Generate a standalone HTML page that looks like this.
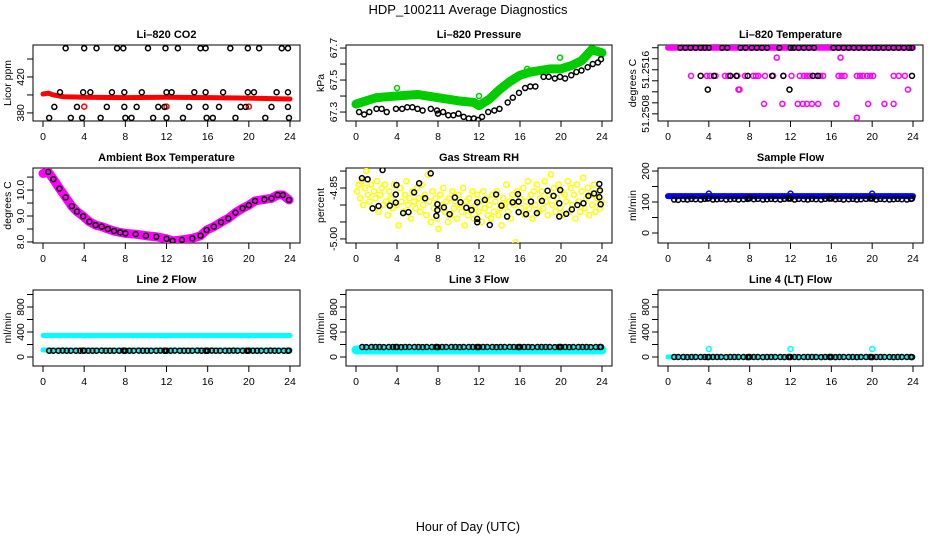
<!DOCTYPE html>
<html><head><meta charset="utf-8"><style>
body{margin:0;background:#fff}
svg{display:block;font-family:"Liberation Sans",sans-serif}
</style></head><body>
<svg id="fig" width="936" height="540" viewBox="0 0 936 540" xmlns="http://www.w3.org/2000/svg">
<rect width="936" height="540" fill="#fff"/>
<text x="468" y="14" font-size="13" text-anchor="middle">HDP_100211  Average Diagnostics</text>
<text x="468" y="531" font-size="12.5" text-anchor="middle">Hour of Day (UTC)</text>
</svg>
<script>
// ---------- data ----------
const xTicks=[0,4,8,12,16,20,24];
const co2Band=[[0,401],[0.5,402],[1,400],[2,398],[4,397.5],[8,397],[12,397.5],[16,397],[20,396.5],[24,395.5]];
const co2Red=[[4,387],[12,387],[20,387]];
const co2Black=[[2.2,452],[4.0,452],[5.2,452],[7.2,452],[7.8,452],[10.2,452],[11.9,452],[13.1,452],[15.3,452],[15.8,452],[18.2,452],[19.9,452],[21.0,452],[23.2,452],[23.8,452],
[1.65,403],[3.9,403],[4.6,403],[6.7,403],[7.9,403],[9.6,403],[12.0,403],[12.5,403],[14.7,403],[15.8,403],[17.5,403],[19.9,403],[20.5,403],[22.7,403],[23.8,403],
[1.1,386.7],[3.3,386.7],[6.2,386.7],[7.9,386.7],[9.1,386.7],[11.2,386.7],[11.8,386.7],[14.2,386.7],[15.8,386.7],[17.1,386.7],[19.2,386.7],[19.7,386.7],[22.2,386.7],[23.8,386.7],
[0.6,374.5],[2.7,374.5],[3.8,374.5],[5.6,374.5],[8.0,374.5],[8.6,374.5],[10.7,374.5],[12.0,374.5],[13.6,374.5],[15.9,374.5],[16.5,374.5],[18.7,374.5],[21.6,374.5],[23.9,374.5]];
const presBand=[[0,67.35],[1,67.37],[2,67.39],[4,67.40],[6,67.41],[8,67.39],[10,67.37],[11.5,67.36],[12,67.34],[13,67.38],[14,67.44],[15,67.49],[16,67.53],[17,67.55],[18,67.56],[19,67.57],[20,67.57],[21,67.59],[22,67.62],[23,67.69],[24,67.67]];
const presGreen=[[4,67.45],[12,67.40],[16.7,67.57],[19.9,67.64]];
const presBlack=[[0.3,67.30],[0.8,67.285],[1.3,67.30],[2,67.32],[2.5,67.32],[3,67.30],[3.9,67.32],[4.5,67.32],[5,67.33],[5.5,67.33],[6,67.32],[6.5,67.31],[7.3,67.32],[7.9,67.31],[8,67.29],[8.5,67.30],[9,67.28],[9.5,67.28],[10,67.29],[10.5,67.27],[11,67.26],[11.5,67.26],[11.9,67.25],[12.3,67.27],[12.9,67.30],[13.5,67.31],[14,67.32],[14.8,67.36],[15.3,67.39],[15.9,67.42],[16.5,67.45],[17,67.46],[17.5,67.46],[18.3,67.52],[18.8,67.52],[19.4,67.51],[19.9,67.52],[20.4,67.51],[21,67.53],[21.5,67.55],[22,67.56],[22.6,67.58],[23.1,67.60],[23.6,67.61],[23.9,67.63]];
const tempBand=[[0,51.2520],[24,51.2520]];
const tempMagenta=[[10.65,51.25182],[16.9,51.25182],
[2.25,51.25149],[3.8,51.25149],[4.1,51.25149],[4.66,51.25149],[5.58,51.25149],[5.9,51.25149],[6.1,51.25149],[6.8,51.25149],[7.54,51.25149],[8.35,51.25149],[8.6,51.25149],[8.85,51.25149],[9.5,51.25149],[10.3,51.25149],[11.3,51.25149],[12.1,51.25149],[12.9,51.25149],[13.3,51.25149],[13.6,51.25149],[13.9,51.25149],[14.2,51.25149],[14.6,51.25149],[14.9,51.25149],[15.2,51.25149],[16.7,51.25149],[17.0,51.25149],[17.3,51.25149],[18.5,51.25149],[18.8,51.25149],[19.1,51.25149],[19.5,51.25149],[19.8,51.25149],[20.1,51.25149],[22.1,51.25149],[22.6,51.25149],[23.2,51.25149],
[6.9,51.25124],[7.0,51.25124],[23.5,51.25124],
[9.4,51.25098],[11.2,51.25098],[12.7,51.25098],[13.2,51.25098],[13.6,51.25098],[14.1,51.25098],[14.7,51.25098],[16.5,51.25098],[19.6,51.25098],[21.2,51.25098],[22.1,51.25098],
[18.5,51.25073]];
const tempBlack=[[1.2,51.2520],[1.7,51.2520],[2.2,51.2520],[2.7,51.2520],[3.2,51.2520],[3.6,51.2520],[4,51.2520],[5.3,51.2520],[5.8,51.2520],[7.1,51.2520],[7.6,51.2520],[8.2,51.2520],[8.7,51.2520],[9.2,51.2520],[9.7,51.2520],[10.9,51.2520],[12,51.2520],[12.3,51.2520],[12.8,51.2520],[13.3,51.2520],[13.8,51.2520],[14.3,51.2520],[16.2,51.2520],[16.7,51.2520],[17.2,51.2520],[17.7,51.2520],[18.2,51.2520],[18.7,51.2520],[19.2,51.2520],[19.7,51.2520],[20.2,51.2520],[20.6,51.2520],[21.1,51.2520],[21.6,51.2520],[22.1,51.2520],[22.6,51.2520],[23.1,51.2520],[23.6,51.2520],[23.9,51.2520],
[3.2,51.25149],[4.5,51.25149],[6.1,51.25149],[6.7,51.25149],[7.8,51.25149],[10.2,51.25149],[11.3,51.25149],[14.2,51.25149],[14.7,51.25149],[23.9,51.25149],
[3.9,51.25124],[11.9,51.25124]];
const ambPts=[[0,10.64],[0.5,10.7],[1.0,10.42],[1.6,10.06],[2.2,9.72],[2.8,9.38],[3.3,9.17],[3.9,8.99],[4.5,8.78],[5.1,8.65],[5.7,8.59],[6.3,8.5],[6.9,8.42],[7.5,8.37],[8,8.33],[9,8.30],[10,8.24],[11,8.2],[12,8.12],[12.6,8.04],[13.5,8.08],[14.5,8.14],[15.3,8.24],[15.9,8.46],[16.6,8.59],[17.3,8.76],[18,8.91],[18.7,9.13],[19.4,9.3],[20,9.42],[20.6,9.58],[21.5,9.64],[22.2,9.68],[22.8,9.81],[23.3,9.81],[23.9,9.62]];
const rhYellowStart=0.1, rhYellowStep=0.15;
const rhYellow=[-4.86,-4.84,-4.88,-4.83,-4.90,-4.85,-4.80,-4.87,-4.89,-4.84,
-4.91,-4.86,-4.88,-4.83,-4.92,-4.87,-4.85,-4.90,-4.84,-4.89,
-4.93,-4.86,-4.88,-4.91,-4.84,-4.87,-4.90,-4.96,-4.85,-4.89,
-4.92,-4.87,-4.83,-4.90,-4.88,-4.94,-4.86,-4.89,-4.91,-4.85,
-4.88,-4.92,-4.84,-4.90,-4.87,-4.93,-4.81,-4.89,-4.95,-4.86,
-4.91,-4.88,-4.94,-4.97,-4.87,-4.90,-4.85,-4.92,-4.89,-4.95,
-4.88,-4.93,-4.86,-4.91,-4.89,-4.94,-4.87,-4.90,-4.92,-4.85,
-4.96,-4.89,-4.93,-4.88,-4.91,-4.86,-4.94,-4.90,-4.87,-4.92,
-4.89,-4.95,-4.86,-4.91,-4.88,-4.93,-4.90,-4.94,-4.87,-4.92,
-4.89,-4.86,-4.93,-4.91,-4.96,-4.88,-4.90,-4.84,-4.92,-4.89,
-4.94,-4.87,-4.90,-5.01,-4.86,-4.92,-4.88,-4.91,-4.85,-4.93,
-4.89,-4.83,-4.91,-4.87,-4.94,-4.86,-4.90,-4.84,-4.92,-4.88,
-4.86,-4.91,-4.83,-4.89,-4.93,-4.87,-4.81,-4.90,-4.85,-4.92,
-4.88,-4.84,-4.91,-4.86,-4.93,-4.87,-4.89,-4.83,-4.92,-4.85,
-4.90,-4.87,-4.94,-4.84,-4.89,-4.92,-4.86,-4.82,-4.91,-4.88,
-4.85,-4.93,-4.87,-4.90,-4.84,-4.92,-4.88,-4.86,-4.91,-4.89];
const rhBlack=[[0.58,-4.821],[1.13,-4.824],[1.62,-4.910],[2.2,-4.903],[2.59,-4.797],[3.3,-4.902],[3.88,-4.893],[3.88,-4.869],[3.95,-4.841],[4.6,-4.924],[5.12,-4.921],[5.67,-4.863],[6.16,-4.836],[6.74,-4.880],[7.29,-4.807],[7.84,-4.932],[7.94,-4.915],[7.94,-4.898],[8.58,-4.907],[9.13,-4.927],[9.65,-4.878],[10.2,-4.892],[10.76,-4.908],[11.27,-4.915],[11.83,-4.892],[11.83,-4.941],[11.83,-4.951],[12.57,-4.885],[13.05,-4.959],[13.67,-4.869],[14.19,-4.902],[14.74,-4.934],[15.29,-4.892],[15.8,-4.868],[15.87,-4.890],[15.87,-4.921],[16.59,-4.927],[17.07,-4.890],[17.65,-4.924],[18.14,-4.888],[18.69,-4.858],[19.27,-4.873],[19.83,-4.895],[19.83,-4.934],[19.92,-4.856],[20.51,-4.926],[21.06,-4.913],[21.6,-4.900],[22.19,-4.895],[22.67,-4.873],[23.22,-4.866],[23.74,-4.838],[23.8,-4.857],[23.74,-4.877],[23.87,-4.898]];
const flowHours=[0.6,1.0,1.5,1.9,2.3,2.7,3.2,3.6,3.9,4.0,4.4,4.8,5.2,5.7,6.1,6.5,6.9,7.4,7.8,7.9,8.0,8.4,8.8,9.3,9.7,10.1,10.5,11.0,11.4,11.8,11.9,12.0,12.4,12.8,13.3,13.7,14.1,14.5,15.0,15.4,15.8,15.9,16.0,16.4,16.8,17.2,17.7,18.1,18.5,18.9,19.4,19.8,19.9,20.0,20.4,20.8,21.2,21.7,22.1,22.5,22.9,23.4,23.8,23.9];
const sampleBlack=[108,107,109,108,110,109,108,110,111,112,108,109,110,108,109,110,108,109,110,111,112,109,110,108,109,110,109,108,110,111,112,111,108,110,109,108,110,109,108,110,111,112,111,109,110,108,109,110,108,109,110,111,112,111,108,110,109,108,109,110,109,108,110,111];
const sampleBand=[[0,119],[24,119]];
const sampleBlue=[[4,127],[12,127],[20,127]];
const line2Black=[101,100,101,102,101,100,101,101,102,101,100,101,101,102,101,100,101,101,102,101,100,101,101,102,101,100,101,101,102,101,100,101,101,102,101,100,101,101,102,101,100,101,101,102,101,100,101,101,102,101,100,101,101,102,101,100,101,101,102,101,100,101,101,102];
const line2Upper=[[0,344],[3.9,344],[4,336],[4.1,344],[11.9,344],[12,336],[12.1,344],[19.9,344],[20,336],[20.1,344],[24,344]];
const line2Lower=[[0,112],[24,112]];
const line3Black=[160,159,160,161,160,159,160,160,161,160,159,160,160,161,160,159,160,160,161,160,159,160,160,161,160,159,160,160,161,160,159,160,160,161,160,159,160,160,161,160,159,160,160,161,160,159,160,160,161,160,159,160,160,161,160,159,160,160,161,160,159,160,160,161];
const line3Band=[[0,112],[24,112]];
const line4Black=[0,1,0,-1,0,1,0,0,-1,0,1,0,0,-1,0,1,0,0,-1,0,1,0,0,-1,0,1,0,0,-1,0,1,0,0,-1,0,1,0,0,-1,0,1,0,0,-1,0,1,0,0,-1,0,1,0,0,-1,0,1,0,0,-1,0,1,0,0,-1];
const line4Band=[[0,0],[24,0]];
const line4Cyan=[[4,128],[12,128],[20,128]];

const panels=[
 {name:'li820-co2',title:'Li–820 CO2',ylab:'Licor ppm',col:0,row:0,ylim:[371,455.6],yt:[380,400,420,440],yl:['380','','420','']},
 {name:'li820-pressure',title:'Li–820 Pressure',ylab:'kPa',col:1,row:0,ylim:[67.244,67.719],yt:[67.3,67.4,67.5,67.6,67.7],yl:['67.3','','67.5','','67.7']},
 {name:'li820-temperature',title:'Li–820 Temperature',ylab:'degrees C',col:2,row:0,ylim:[51.25067,51.25205],yt:[51.2508,51.2510,51.2512,51.2514,51.2516,51.2518,51.2520],yl:['51.2508','','','','51.2516','','']},
 {name:'ambient-box-temperature',title:'Ambient Box Temperature',ylab:'degrees C',col:0,row:1,ylim:[7.96,10.85],yt:[8,8.5,9,9.5,10,10.5],yl:['8.0','','9.0','','10.0','']},
 {name:'gas-stream-rh',title:'Gas Stream RH',ylab:'percent',col:1,row:1,ylim:[-5.012,-4.791],yt:[-5,-4.95,-4.9,-4.85,-4.8],yl:['-5.00','','','-4.85','']},
 {name:'sample-flow',title:'Sample Flow',ylab:'ml/min',col:2,row:1,ylim:[-32.3,209.7],yt:[0,50,100,150,200],yl:['0','','100','','200']},
 {name:'line2-flow',title:'Line 2 Flow',ylab:'ml/min',col:0,row:2,ylim:[-144,1072],yt:[0,200,400,600,800,1000],yl:['0','','400','','800','']},
 {name:'line3-flow',title:'Line 3 Flow',ylab:'ml/min',col:1,row:2,ylim:[-144,1072],yt:[0,200,400,600,800,1000],yl:['0','','400','','800','']},
 {name:'line4-flow',title:'Line 4 (LT) Flow',ylab:'ml/min',col:2,row:2,ylim:[-144,1072],yt:[0,200,400,600,800,1000],yl:['0','','400','','800','']}
];
const colL=[33,346,658], colR=[300,612,923], rowT=[45,168,290], rowB=[121,243,366];

// ---------- drawing ----------
const NS='http://www.w3.org/2000/svg';
const svg=document.getElementById('fig');
function mk(tag,parent,attrs){const e=document.createElementNS(NS,tag);for(const k in attrs)e.setAttribute(k,attrs[k]);parent.appendChild(e);return e;}

function makeAxes(p){
  const L=colL[p.col],R=colR[p.col],T=rowT[p.row],B=rowB[p.row];
  const x=h=>L+10+(h/24)*(R-L-20);
  const y=v=>B-(v-p.ylim[0])/(p.ylim[1]-p.ylim[0])*(B-T);
  const g=mk('g',svg,{});
  
  
  const t=mk('text',g,{x:(L+R)/2,y:T-7,'font-size':11,'font-weight':'bold','text-anchor':'middle'});
  
  
  t.textContent=p.title;
  const yl=mk('text',g,{x:L-22,y:(T+B)/2,'font-size':10.5,'text-anchor':'middle',transform:`rotate(-90 ${L-22} ${(T+B)/2})`});
  
  
  yl.textContent=p.ylab;
  const xa=mk('g',g,{stroke:'#000','stroke-width':1});
  
  
  mk('line',xa,{x1:x(0),x2:x(24),y1:B,y2:B});
  xTicks.forEach(h=>{
    mk('line',xa,{x1:x(h),x2:x(h),y1:B,y2:B+6});
    const tl=mk('text',g,{x:x(h),y:B+19,'font-size':10.5,'text-anchor':'middle'});
    
    
    tl.textContent=h;
  });
  const ya=mk('g',g,{stroke:'#000','stroke-width':1});
  
  
  mk('line',ya,{x1:L,x2:L,y1:y(p.yt[0]),y2:y(p.yt[p.yt.length-1])});
  p.yt.forEach((v,i)=>{
    mk('line',ya,{x1:L-6,x2:L,y1:y(v),y2:y(v)});
    if(p.yl[i]){
      const tl=mk('text',g,{x:L-9,y:y(v),'font-size':10.5,'text-anchor':'middle',transform:`rotate(-90 ${L-9} ${y(v)})`});
      
      
      tl.textContent=p.yl[i];
    }
  });
  const box=mk('rect',g,{x:L,y:T,width:R-L,height:B-T,fill:'none',stroke:'#000','stroke-width':1});
  
  
  const cp=mk('clipPath',g,{id:'clip-'+p.name});
  mk('rect',cp,{x:L,y:T,width:R-L,height:B-T});
  const plot=mk('g',g,{'clip-path':`url(#clip-${p.name})`});
  
  
  return {x,y,g:plot};
}
function band(ax,pts,color,w,name){
  const pl=mk('polyline',ax.g,{points:pts.map(d=>ax.x(d[0])+','+ax.y(d[1])).join(' '),fill:'none',stroke:color,'stroke-width':w,'stroke-linecap':'round','stroke-linejoin':'round'});
  
  
}
function pts(ax,arr,color,name,r){
  arr.forEach(d=>{
    const c=mk('circle',ax.g,{cx:ax.x(d[0]),cy:ax.y(d[1]),r:r||2.5,fill:'none',stroke:color,'stroke-width':1.5});
    
    
  });
}
const A=panels.map(makeAxes);
// CO2
band(A[0],co2Band,'#ff0000',5,'co2-red-band');
pts(A[0],co2Red,'#ff0000','co2-red-point');
pts(A[0],co2Black,'#000','co2-black-point');
// Pressure
band(A[1],presBand,'#00cc00',9,'pressure-green-band');
pts(A[1],presGreen,'#00cc00','pressure-green-point');
pts(A[1],presBlack,'#000','pressure-black-point');
// Temperature
band(A[2],tempBand,'#ff00ff',6,'temperature-magenta-band');
pts(A[2],tempMagenta,'#ff00ff','temperature-magenta-point');
pts(A[2],tempBlack,'#000','temperature-black-point');
// Ambient
band(A[3],ambPts,'#ff00ff',9,'ambient-magenta-band');
pts(A[3],ambPts.slice(1),'#000','ambient-black-point');
// RH
pts(A[4],rhYellow.map((v,i)=>[rhYellowStart+i*rhYellowStep,v]),'#ffff00','rh-yellow-point',2.6);
pts(A[4],rhBlack,'#000','rh-black-point');
// Sample flow
band(A[5],sampleBand,'#0000ff',6,'sample-flow-blue-band');
pts(A[5],sampleBlue,'#0000ff','sample-flow-blue-point');
pts(A[5],sampleBlack.map((v,i)=>[flowHours[i],v]),'#000','sample-flow-black-point');
// Line 2
band(A[6],line2Upper,'#00ffff',5,'line2-cyan-upper-band');
band(A[6],line2Lower,'#00ffff',5,'line2-cyan-lower-band');
pts(A[6],line2Black.map((v,i)=>[flowHours[i],v]),'#000','line2-black-point');
// Line 3
band(A[7],line3Band,'#00ffff',9,'line3-cyan-band');
pts(A[7],line3Black.map((v,i)=>[flowHours[i],v]),'#000','line3-black-point');
// Line 4
band(A[8],line4Band,'#00ffff',5,'line4-cyan-band');
pts(A[8],line4Cyan,'#00ffff','line4-cyan-point');
pts(A[8],line4Black.map((v,i)=>[flowHours[i],v]),'#000','line4-black-point');
</script>
</body></html>
